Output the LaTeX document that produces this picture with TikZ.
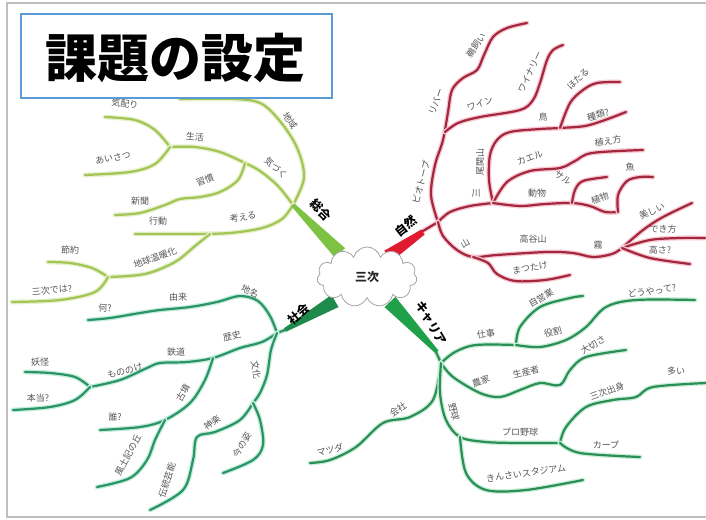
\documentclass[tikz,border=0pt]{standalone}
\usepackage{fontspec}
\setmainfont{Noto Sans CJK JP}
\usetikzlibrary{shapes.symbols,calc}
\definecolor{sogoS}{HTML}{7DC242}
\definecolor{sogoL}{HTML}{A2C555}
\definecolor{sogoH}{HTML}{E6F1CC}
\definecolor{shiS}{HTML}{E01B2F}
\definecolor{shiL}{HTML}{A3283F}
\definecolor{shiH}{HTML}{F7C8D0}
\definecolor{shaS}{HTML}{1E8A4C}
\definecolor{shaL}{HTML}{2B9466}
\definecolor{shaH}{HTML}{C6EEDD}
\definecolor{carS}{HTML}{21A04A}
\definecolor{carL}{HTML}{2A8E56}
\definecolor{carH}{HTML}{CBEFD9}
\definecolor{titleB}{HTML}{5B9BD5}
\definecolor{txt}{HTML}{555555}
\tikzset{
  br/.style 2 args={draw=#1, line width=2.2pt, line cap=round, line join=round,
    preaction={draw=#2, line width=4.8pt, line cap=round, line join=round}},
  lab/.style={font=\fontsize{9}{9}\selectfont, text=txt, inner sep=0pt},
  mainlab/.style={font=\fontsize{12}{12}\selectfont\bfseries, text=black, inner sep=0pt},
  sm/.style={smooth, tension=0.55}
}
\newcommand{\stem}[5]{%
  \fill[#1] ($(#2)!#4!90:(#3)$) -- ($(#3)!#5!-90:(#2)$) -- ($(#3)!#5!90:(#2)$) -- ($(#2)!#4!-90:(#3)$) -- cycle;}
\begin{document}
\begin{tikzpicture}[x=1pt,y=-1pt]
\useasboundingbox (0,0) rectangle (706,519);
\fill[white] (0,0) rectangle (706,519);
\draw[gray!50, line width=1.3pt] (7,3) rectangle (714,517);

% ---------- 総合 (yellow-green) ----------
\draw[br={sogoL}{sogoH}] plot[sm] coordinates {(293,205) (304,178) (298,150) (283,125) (262,104) (235,99) (180,99)};
\draw[br={sogoL}{sogoH}] plot[sm] coordinates {(293,205) (278,186) (260,171) (245,163) (220,152) (195,147) (170,147)};
\draw[br={sogoL}{sogoH}] plot[sm] coordinates {(170,147) (155,130) (135,120) (105,117)};
\draw[br={sogoL}{sogoH}] plot[sm] coordinates {(170,147) (155,164) (130,172) (85,175)};
\draw[br={sogoL}{sogoH}] plot[sm] coordinates {(245,163) (238,180) (220,192) (200,197) (180,199) (165,205) (140,213) (115,215)};
\draw[br={sogoL}{sogoH}] plot[sm] coordinates {(293,205) (282,219) (262,228) (230,233) (190,234) (135,234)};
\draw[br={sogoL}{sogoH}] plot[sm] coordinates {(210,234) (195,246) (175,262) (145,274) (108,277)};
\draw[br={sogoL}{sogoH}] plot[sm] coordinates {(108,277) (92,268) (70,263) (48,262)};
\draw[br={sogoL}{sogoH}] plot[sm] coordinates {(108,277) (95,292) (60,300) (12,302)};
\coordinate (sgA) at (340,253);
\coordinate (sgB) at (293,205);
\stem{sogoS}{sgA}{sgB}{7pt}{2pt}

% ---------- 自然 (red) ----------
\draw[br={shiL}{shiH}] plot[sm] coordinates {(418,234) (438,222)};
\draw[br={shiL}{shiH}] plot[sm] coordinates {(438,222) (431,195) (435,165) (443,140) (448,112) (452,90) (463,78) (477,70) (484,55) (493,37) (507,28) (527,23)};
\draw[br={shiL}{shiH}] plot[sm] coordinates {(445,132) (458,123) (480,117) (520,110) (533,100) (540,83) (547,60) (553,50) (563,45)};
\draw[br={shiL}{shiH}] plot[sm] coordinates {(438,222) (450,212) (470,206) (493,203)};
\draw[br={shiL}{shiH}] plot[sm] coordinates {(493,203) (489,180) (490,155) (497,140) (510,132) (540,129) (560,128) (585,126) (605,120) (626,112)};
\draw[br={shiL}{shiH}] plot[sm] coordinates {(560,128) (570,103) (583,90) (597,83) (620,82)};
\draw[br={shiL}{shiH}] plot[sm] coordinates {(493,203) (507,182) (530,171) (560,168) (575,161) (592,153) (643,150)};
\draw[br={shiL}{shiH}] plot[sm] coordinates {(493,203) (520,206) (545,204) (572,203) (590,206) (605,212) (618,212)};
\draw[br={shiL}{shiH}] plot[sm] coordinates {(618,212) (618,195) (627,181) (640,177) (653,177)};
\draw[br={shiL}{shiH}] plot[sm] coordinates {(572,203) (575,190) (583,181) (607,177)};
\draw[br={shiL}{shiH}] plot[sm] coordinates {(438,222) (443,236) (457,250) (473,257) (497,255) (547,252) (573,253) (593,257) (612,254) (622,248)};
\draw[br={shiL}{shiH}] plot[sm] coordinates {(622,248) (643,230) (663,217) (692,203)};
\draw[br={shiL}{shiH}] plot[sm] coordinates {(622,248) (650,240) (680,238) (705,238)};
\draw[br={shiL}{shiH}] plot[sm] coordinates {(622,248) (650,258) (690,264)};
\draw[br={shiL}{shiH}] plot[sm] coordinates {(473,257) (488,263) (497,274) (515,281) (545,280) (570,275)};
\coordinate (shA) at (388,256);
\coordinate (shB) at (423,232);
\stem{shiS}{shA}{shB}{6.5pt}{3pt}

% ---------- 社会 (green) ----------
\draw[br={shaL}{shaH}] plot[sm] coordinates {(285,330) (277,333)};
\draw[br={shaL}{shaH}] plot[sm] coordinates {(277,333) (270,316) (258,301) (240,296) (217,302) (190,307) (160,310) (140,313) (110,318) (88,320)};
\draw[br={shaL}{shaH}] plot[sm] coordinates {(277,333) (262,342) (240,348) (213,358) (187,362) (160,363) (147,368) (120,380) (90,387)};
\draw[br={shaL}{shaH}] plot[sm] coordinates {(90,387) (75,377) (50,373) (25,372)};
\draw[br={shaL}{shaH}] plot[sm] coordinates {(90,387) (75,400) (50,407) (13,410)};
\draw[br={shaL}{shaH}] plot[sm] coordinates {(213,358) (205,380) (190,403) (165,420) (140,427) (100,430)};
\draw[br={shaL}{shaH}] plot[sm] coordinates {(165,420) (155,440) (147,460) (130,478) (97,487)};
\draw[br={shaL}{shaH}] plot[sm] coordinates {(277,333) (271,350) (267,375) (260,393) (253,403)};
\draw[br={shaL}{shaH}] plot[sm] coordinates {(253,403) (240,420) (215,432) (197,437) (193,460) (183,490) (150,510)};
\draw[br={shaL}{shaH}] plot[sm] coordinates {(253,403) (260,420) (263,445) (253,460) (223,473)};
\coordinate (saA) at (335,301);
\coordinate (saB) at (285,330);
\stem{shaS}{saA}{saB}{7pt}{2pt}

% ---------- キャリア (green) ----------
\draw[br={carL}{carH}] plot[sm] coordinates {(436,352) (441,363)};
\draw[br={carL}{carH}] plot[sm] coordinates {(441,363) (455,352) (476,345) (516,345)};
\draw[br={carL}{carH}] plot[sm] coordinates {(516,345) (520,327) (540,307) (570,298) (583,296)};
\draw[br={carL}{carH}] plot[sm] coordinates {(516,345) (540,347) (566,340) (586,327) (606,307) (636,300) (695,300)};
\draw[br={carL}{carH}] plot[sm] coordinates {(441,363) (453,377) (480,393) (500,397) (520,390) (540,383) (560,385) (570,370) (586,357) (626,350)};
\draw[br={carL}{carH}] plot[sm] coordinates {(441,363) (433,400) (410,417) (383,423) (356,447) (330,460) (310,463)};
\draw[br={carL}{carH}] plot[sm] coordinates {(441,363) (440,393) (446,420) (460,437) (486,442) (520,443) (560,443)};
\draw[br={carL}{carH}] plot[sm] coordinates {(560,443) (566,427) (586,407) (613,400) (636,397) (653,387) (706,383)};
\draw[br={carL}{carH}] plot[sm] coordinates {(560,443) (580,453) (640,457)};
\draw[br={carL}{carH}] plot[sm] coordinates {(460,437) (466,473) (486,490) (526,490) (583,480)};
\coordinate (caA) at (390,302);
\coordinate (caB) at (437,352);
\stem{carS}{caA}{caB}{7.5pt}{2pt}

% ---------- center cloud ----------
\node[cloud, cloud puffs=11, aspect=1.7, draw=gray!70, line width=0.8pt, fill=white,
      minimum width=100pt, minimum height=60pt, inner sep=0pt] (center) at (367,277) {};
\node[font=\fontsize{12}{12}\selectfont\bfseries, text=black!85] (centerText) at (367,277) {三次};

% ---------- main labels ----------
\node[mainlab, rotate=-45] (mSogo) at (321,210) {総合};
\node[mainlab, rotate=38] (mShi) at (406,226) {自然};
\node[mainlab, rotate=40] (mSha) at (299,314) {社会};
\node[mainlab, rotate=-60] (mCar) at (431,323) {キャリア};

% ---------- 総合 labels ----------
\node[lab, rotate=-55] (g1) at (290,121) {地域};
\node[lab, rotate=-42] (g2) at (276,168) {気づく};
\node[lab, rotate=-5] (g3) at (195,137) {生活};
\node[lab, rotate=-8] (g4) at (125,104) {気配り};
\node[lab, rotate=10] (g5) at (113,158) {あいさつ};
\node[lab, rotate=22] (g6) at (205,180) {習慣};
\node[lab] (g7) at (140,201) {新聞};
\node[lab, rotate=10] (g8) at (243,217) {考える};
\node[lab] (g9) at (158,221) {行動};
\node[lab, rotate=20] (g10) at (155,258) {地球温暖化};
\node[lab] (g11) at (70,250) {節約};
\node[lab, rotate=5] (g12) at (52,290) {三次では?};

% ---------- 自然 labels ----------
\node[lab, rotate=75] (r1) at (421,182) {ビオトープ};
\node[lab, rotate=70] (r2) at (436,102) {リバー};
\node[lab, rotate=55] (r3) at (476,45) {鵜飼い};
\node[lab, rotate=20] (r4) at (480,104) {ワイン};
\node[lab, rotate=65] (r5) at (530,72) {ワイナリー};
\node[lab, rotate=90] (r6) at (480,162) {尾関山};
\node[lab] (r7) at (543,117) {鳥};
\node[lab, rotate=45] (r8) at (578,79) {ほたる};
\node[lab, rotate=15] (r9) at (598,115) {種類?};
\node[lab, rotate=20] (r10) at (530,158) {カエル};
\node[lab, rotate=8] (r11) at (608,141) {植え方};
\node[lab] (r12) at (476,193) {川};
\node[lab] (r13) at (537,193) {動物};
\node[lab, rotate=-35] (r14) at (563,178) {サル};
\node[lab, rotate=20] (r15) at (600,198) {植物};
\node[lab] (r16) at (630,167) {魚};
\node[lab, rotate=30] (r17) at (465,243) {山};
\node[lab] (r18) at (533,239) {高谷山};
\node[lab] (r19) at (598,245) {霧};
\node[lab, rotate=25] (r20) at (652,211) {美しい};
\node[lab] (r21) at (663,229) {でき方};
\node[lab] (r22) at (660,250) {高さ?};
\node[lab, rotate=10] (r23) at (530,268) {まつたけ};

% ---------- 社会 labels ----------
\node[lab, rotate=-25] (s1) at (250,291) {地名};
\node[lab] (s2) at (178,297) {由来};
\node[lab] (s3) at (105,308) {何?};
\node[lab, rotate=15] (s4) at (232,336) {歴史};
\node[lab] (s5) at (176,352) {鉄道};
\node[lab, rotate=15] (s6) at (125,371) {もののけ};
\node[lab] (s7) at (40,362) {妖怪};
\node[lab] (s8) at (38,398) {本当?};
\node[lab, rotate=60] (s9) at (183,393) {古墳};
\node[lab] (s10) at (115,417) {誰?};
\node[lab, rotate=62] (s11) at (128,455) {風土記の丘};
\node[lab, rotate=-80] (s12) at (256,370) {文化};
\node[lab, rotate=35] (s13) at (212,423) {神楽};
\node[lab, rotate=72] (s14) at (167,480) {伝統芸能};
\node[lab, rotate=60] (s15) at (242,445) {今の姿};

% ---------- キャリア labels ----------
\node[lab, rotate=10] (c1) at (486,334) {仕事};
\node[lab, rotate=30] (c2) at (541,298) {自営業};
\node[lab, rotate=15] (c3) at (553,332) {役割};
\node[lab, rotate=8] (c4) at (652,291) {どうやって?};
\node[lab, rotate=20] (c5) at (481,381) {農家};
\node[lab, rotate=15] (c6) at (526,372) {生産者};
\node[lab, rotate=30] (c7) at (593,345) {大切さ};
\node[lab, rotate=35] (c8) at (398,410) {会社};
\node[lab, rotate=15] (c9) at (330,450) {マツダ};
\node[lab, rotate=-75] (c10) at (454,412) {野球};
\node[lab] (c11) at (520,432) {プロ野球};
\node[lab, rotate=20] (c12) at (607,391) {三次出身};
\node[lab] (c13) at (676,371) {多い};
\node[lab] (c14) at (606,445) {カープ};
\node[lab, rotate=8] (c15) at (526,473) {きんさいスタジアム};

% ---------- title ----------
\node[draw=titleB, line width=1.8pt, fill=white, minimum width=311pt, minimum height=84pt, inner sep=0pt] (titleBox) at (176.5,56) {};
\node[font=\fontsize{52}{52}\selectfont\bfseries, text=black, inner sep=0pt] (titleText) at (175,58) {課題の設定};
\end{tikzpicture}
\end{document}
